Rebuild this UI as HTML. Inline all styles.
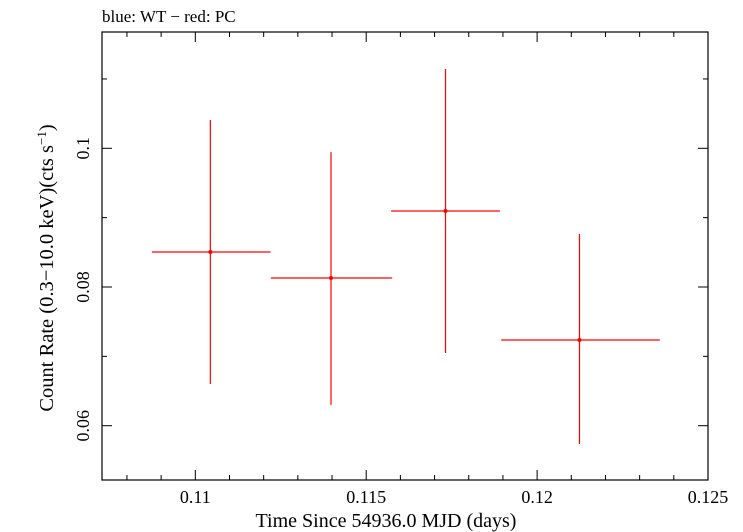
<!DOCTYPE html>
<html><head><meta charset="utf-8"><style>
html,body{margin:0;padding:0;background:#fff;}
svg{display:block;font-family:"Liberation Serif",serif;}
</style></head><body>
<svg id="chart" width="743" height="532">
<text x="102" y="22" font-size="17">blue: WT − red: PC</text>
<rect x="102" y="32" width="606" height="448" fill="none" stroke="#000" stroke-width="1.2"/>
<g id="ticks"></g>
<g id="marks"></g>
<text x="386" y="527" font-size="20" text-anchor="middle">Time Since 54936.0 MJD (days)</text>
<text transform="translate(53,268) rotate(-90)" font-size="20.5" text-anchor="middle">Count Rate (0.3−10.0 keV)(cts s<tspan dy="-7" font-size="13">−1</tspan><tspan dy="7">)</tspan></text>
</svg>
<script>
const timeValues=[0.11044,0.11397,0.11732,0.12124];
const timeErrLo=[0.00171,0.00176,0.00159,0.00229];
const timeErrHi=[0.00176,0.00179,0.00159,0.00235];
const rateValues=[0.08505,0.0813,0.09096,0.07236];
const rateErrHi=[0.01903,0.01815,0.02048,0.01529];
const rateErrLo=[0.01903,0.0183,0.02047,0.015];
const xTickLabels=["0.11","0.115","0.12","0.125"];
const yTickLabels=["0.06","0.08","0.1"];
const X0=102,X1=708,Y0=32,Y1=480;
const xMin=0.10727,xMax=0.125,yMin=0.05217,yMax=0.11677;
const xs=v=>X0+(v-xMin)/(xMax-xMin)*(X1-X0);
const ys=v=>Y1-(v-yMin)/(yMax-yMin)*(Y1-Y0);
const NS="http://www.w3.org/2000/svg";
const tg=document.getElementById('ticks'),mg=document.getElementById('marks');
function ln(g,x1,y1,x2,y2,c,w){const l=document.createElementNS(NS,'line');l.setAttribute('x1',x1);l.setAttribute('y1',y1);l.setAttribute('x2',x2);l.setAttribute('y2',y2);l.setAttribute('stroke',c);l.setAttribute('stroke-width',w);g.appendChild(l);return l;}
for(let i=108;i<=125;i++){const v=i/1000;const x=xs(v);if(x<X0-0.5)continue;const maj=i%5===0;const L=maj?10:5;
const a=ln(tg,x,Y1,x,Y1-L,'#000',1);


const b=ln(tg,x,Y0,x,Y0+L,'#000',1);

}
xTickLabels.forEach(s=>{const t=document.createElementNS(NS,'text');t.setAttribute('x',xs(parseFloat(s)));t.setAttribute('y',503);t.setAttribute('font-size','18');t.setAttribute('text-anchor','middle');t.textContent=s;


tg.appendChild(t);});
for(let i=6;i<=11;i++){const v=i/100;const y=ys(v);const maj=i%2===0;const L=maj?10:5;
const a=ln(tg,X0,y,X0+L,y,'#000',1);


const b=ln(tg,X1,y,X1-L,y,'#000',1);

}
yTickLabels.forEach(s=>{const y=ys(parseFloat(s));const t=document.createElementNS(NS,'text');t.setAttribute('transform','translate(89,'+y+') rotate(-90)');t.setAttribute('font-size','18');t.setAttribute('text-anchor','middle');t.textContent=s;


tg.appendChild(t);});
timeValues.forEach((tv,i)=>{const g=document.createElementNS(NS,'g');


const x=xs(tv),y=ys(rateValues[i]);
ln(g,xs(tv-timeErrLo[i]),y,xs(tv+timeErrHi[i]),y,'#f00',1.2);
ln(g,x,ys(rateValues[i]+rateErrHi[i]),x,ys(rateValues[i]-rateErrLo[i]),'#f00',1.2);
const c=document.createElementNS(NS,'circle');c.setAttribute('cx',x);c.setAttribute('cy',y);c.setAttribute('r',2);c.setAttribute('fill','#f00');g.appendChild(c);
mg.appendChild(g);});
</script>
</body></html>
